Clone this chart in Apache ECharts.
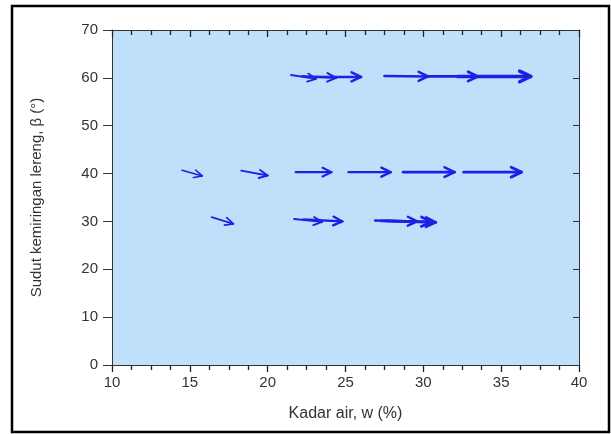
<!DOCTYPE html>
<html>
<head>
<meta charset="utf-8">
<script src="https://cdn.jsdelivr.net/npm/echarts@6/dist/echarts.min.js"></script>
<style>
  html, body { margin: 0; padding: 0; background: #fff; }
  #chart { width: 611px; height: 434px; }
</style>
</head>
<body>
<div id="chart"></div>
<script>
// arrow tails (water content w, slope angle beta) and arrow components
const tailW    = [21.5, 22.2, 23.1, 27.5, 30.3, 32.2,
                  14.5, 18.3, 21.8, 25.2, 28.7, 32.6,
                  16.4, 21.7, 22.3, 26.9, 27.3, 27.6];
const tailBeta = [60.6, 60.4, 60.2, 60.4, 60.3, 60.3,
                  40.7, 40.6, 40.3, 40.3, 40.3, 40.3,
                  30.9, 30.5, 30.4, 30.2, 30.1, 30.1];
const dW       = [1.6, 2.2, 2.9, 2.8, 3.2, 4.7,
                  1.3, 1.7, 2.3, 2.7, 3.3, 3.7,
                  1.4, 1.8, 2.5, 2.7, 3.2, 3.2];
const dBeta    = [-0.8, -0.4, 0, -0.1, 0, 0,
                  -1.2, -1.0, 0, 0, 0, 0,
                  -1.4, -0.6, -0.4, -0.2, -0.2, -0.3];

const xTicks = [10, 15, 20, 25, 30, 35, 40];
const yTicks = [0, 10, 20, 30, 40, 50, 60, 70];

const arrows = tailW.map((w, i) => [w, tailBeta[i], dW[i], dBeta[i]]);

const chart = echarts.init(document.getElementById('chart'));

function renderArrow(params, api) {
  const x = api.value(0), y = api.value(1);
  const p0 = api.coord([x, y]);
  const p1 = api.coord([x + api.value(2), y + api.value(3)]);
  const dx = p1[0] - p0[0], dy = p1[1] - p0[1];
  const len = Math.sqrt(dx * dx + dy * dy);
  const lw = 0.9 + len / 28;
  const head = 6 + lw * 1.8;
  const ang = Math.atan2(dy, dx);
  const spread = 0.45;
  const a1 = [p1[0] - head * Math.cos(ang - spread), p1[1] - head * Math.sin(ang - spread)];
  const a2 = [p1[0] - head * Math.cos(ang + spread), p1[1] - head * Math.sin(ang + spread)];
  const style = { stroke: '#1c22e4', lineWidth: lw, fill: null, lineCap: 'round', lineJoin: 'round' };
  return {
    type: 'group',
    children: [
      { type: 'line', shape: { x1: p0[0], y1: p0[1], x2: p1[0], y2: p1[1] }, style: style },
      { type: 'polyline', shape: { points: [a1, p1, a2] }, style: style }
    ]
  };
}

const axisCommon = {
  type: 'value',
  axisLine: { show: true, onZero: false, lineStyle: { color: '#333', width: 1 } },
  splitLine: { show: false }
};

chart.setOption({
  backgroundColor: '#fff',
  textStyle: { fontFamily: 'Liberation Sans, Arial, sans-serif' },
  grid: {
    left: 112, right: 32, top: 30, bottom: 69,
    show: true, backgroundColor: '#bfe0fb', borderWidth: 0
  },
  graphic: [{
    type: 'rect',
    shape: { x: 12, y: 6, width: 597, height: 426 },
    style: { fill: null, stroke: '#000', lineWidth: 2.5 },
    silent: true
  }],
  xAxis: [
    Object.assign({}, axisCommon, {
      position: 'bottom', min: xTicks[0], max: xTicks[xTicks.length - 1], interval: 5,
      name: 'Kadar air, w (%)', nameLocation: 'middle', nameGap: 41,
      nameTextStyle: { fontSize: 16, color: '#333' },
      axisTick: { show: true, inside: false, length: 7, lineStyle: { color: '#222', width: 1.3 } },
      minorTick: { show: true, splitNumber: 4, length: 5, lineStyle: { color: '#222', width: 1.3 } },
      axisLabel: { fontSize: 15, color: '#333', margin: 10 }
    }),
    Object.assign({}, axisCommon, {
      position: 'top', min: xTicks[0], max: xTicks[xTicks.length - 1], interval: 5,
      axisTick: { show: true, inside: true, length: 7, lineStyle: { color: '#222', width: 1.3 } },
      minorTick: { show: true, splitNumber: 4, length: 5, lineStyle: { color: '#222', width: 1.3 } },
      axisLabel: { show: false }
    })
  ],
  yAxis: [
    Object.assign({}, axisCommon, {
      position: 'left', min: yTicks[0], max: yTicks[yTicks.length - 1], interval: 10,
      name: 'Sudut kemiringan lereng, β (°)', nameLocation: 'middle', nameGap: 68,
      nameTextStyle: { fontSize: 15, color: '#333' },
      axisTick: { show: true, inside: false, length: 9, lineStyle: { color: '#333' } },
      axisLabel: { fontSize: 15, color: '#333', margin: 14 }
    }),
    Object.assign({}, axisCommon, {
      position: 'right', min: yTicks[0], max: yTicks[yTicks.length - 1], interval: 10,
      axisTick: { show: true, inside: true, length: 6, lineStyle: { color: '#333' } },
      axisLabel: { show: false }
    })
  ],
  series: [{
    type: 'custom',
    coordinateSystem: 'cartesian2d',
    xAxisIndex: 0,
    yAxisIndex: 0,
    renderItem: renderArrow,
    encode: { x: 0, y: 1 },
    data: arrows,
    silent: true,
    animation: false
  }]
});
</script>
</body>
</html>
